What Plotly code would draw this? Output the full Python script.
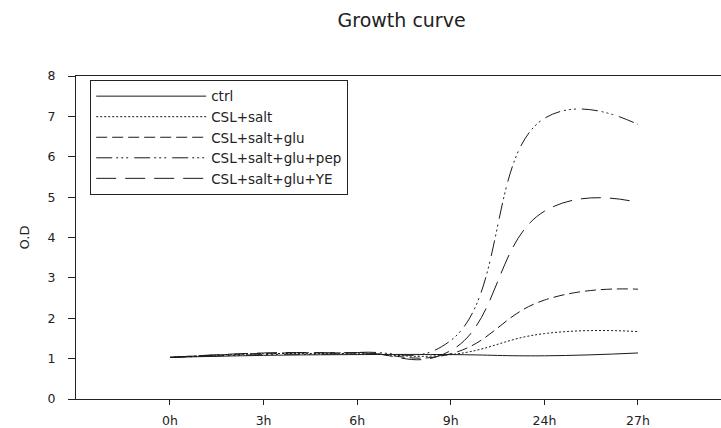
import plotly.graph_objects as go

# sampling times (category positions) and their tick labels
tick_pos = [0, 1, 2, 3, 4, 5]
tick_labels = ["0h", "3h", "6h", "9h", "24h", "27h"]

# O.D values at each sampling time
ctrl = [1.03, 1.08, 1.10, 1.10, 1.07, 1.14]
salt = [1.03, 1.12, 1.12, 1.10, 1.62, 1.67]
glu = [1.03, 1.13, 1.14, 1.12, 2.45, 2.72]
pep = [1.03, 1.10, 1.15, 1.45, 6.95, 6.80]
ye = [1.03, 1.14, 1.15, 1.20, 4.65, 4.87]

names = ["ctrl", "CSL+salt", "CSL+salt+glu", "CSL+salt+glu+pep", "CSL+salt+glu+YE"]
series = [ctrl, salt, glu, pep, ye]
dashes = ["solid", "2px,2px", "11px,5px", "16px,4px,2px,3px,2px,3px,2px,6px", "20px,9px"]

fig = go.Figure()
for n, s, d in zip(names, series, dashes):
    fig.add_trace(go.Scatter(
        x=tick_pos, y=s, name=n, mode="lines",
        line=dict(color="#1a1a1a", width=1, dash=d, shape="spline", smoothing=1.3),
    ))

fig.update_layout(
    width=721, height=428,
    margin=dict(l=76, r=0, t=76, b=24),
    paper_bgcolor="white", plot_bgcolor="white",
    font=dict(family="DejaVu Sans", color="#222222"),
    title=dict(text="Growth curve", x=0.557, xanchor="center", y=0.953, yanchor="middle",
               font=dict(size=19, family="DejaVu Sans", color="#222222")),
    showlegend=True,
    legend=dict(x=0.022, y=0.988, xanchor="left", yanchor="top",
                bordercolor="#222222", borderwidth=1, bgcolor="white",
                font=dict(size=13.5, family="DejaVu Sans", color="#222222"),
                itemwidth=110, tracegroupgap=0),
)
fig.update_xaxes(
    range=[-1.004, 5.887], tickmode="array", tickvals=tick_pos, ticktext=tick_labels,
    showline=True, linecolor="#222222", linewidth=1, mirror=True,
    ticks="outside", ticklen=5, tickcolor="#222222", showgrid=False, zeroline=False,
    ticklabelstandoff=5,
    tickfont=dict(size=12.5, family="DejaVu Sans", color="#222222"),
)
fig.update_yaxes(
    range=[0, 8], tickvals=[0, 1, 2, 3, 4, 5, 6, 7, 8],
    showline=True, linecolor="#222222", linewidth=1,
    ticks="outside", ticklen=7, tickcolor="#222222", showgrid=False, zeroline=False,
    ticklabelstandoff=10,
    tickfont=dict(size=12.5, family="DejaVu Sans", color="#222222"),
    title=dict(text="O.D", standoff=14, font=dict(size=13, family="DejaVu Sans", color="#222222")),
)
fig.write_html("out.html", config={"displayModeBar": False},
               post_script="document.body.style.margin='0';document.body.style.overflow='hidden';")
